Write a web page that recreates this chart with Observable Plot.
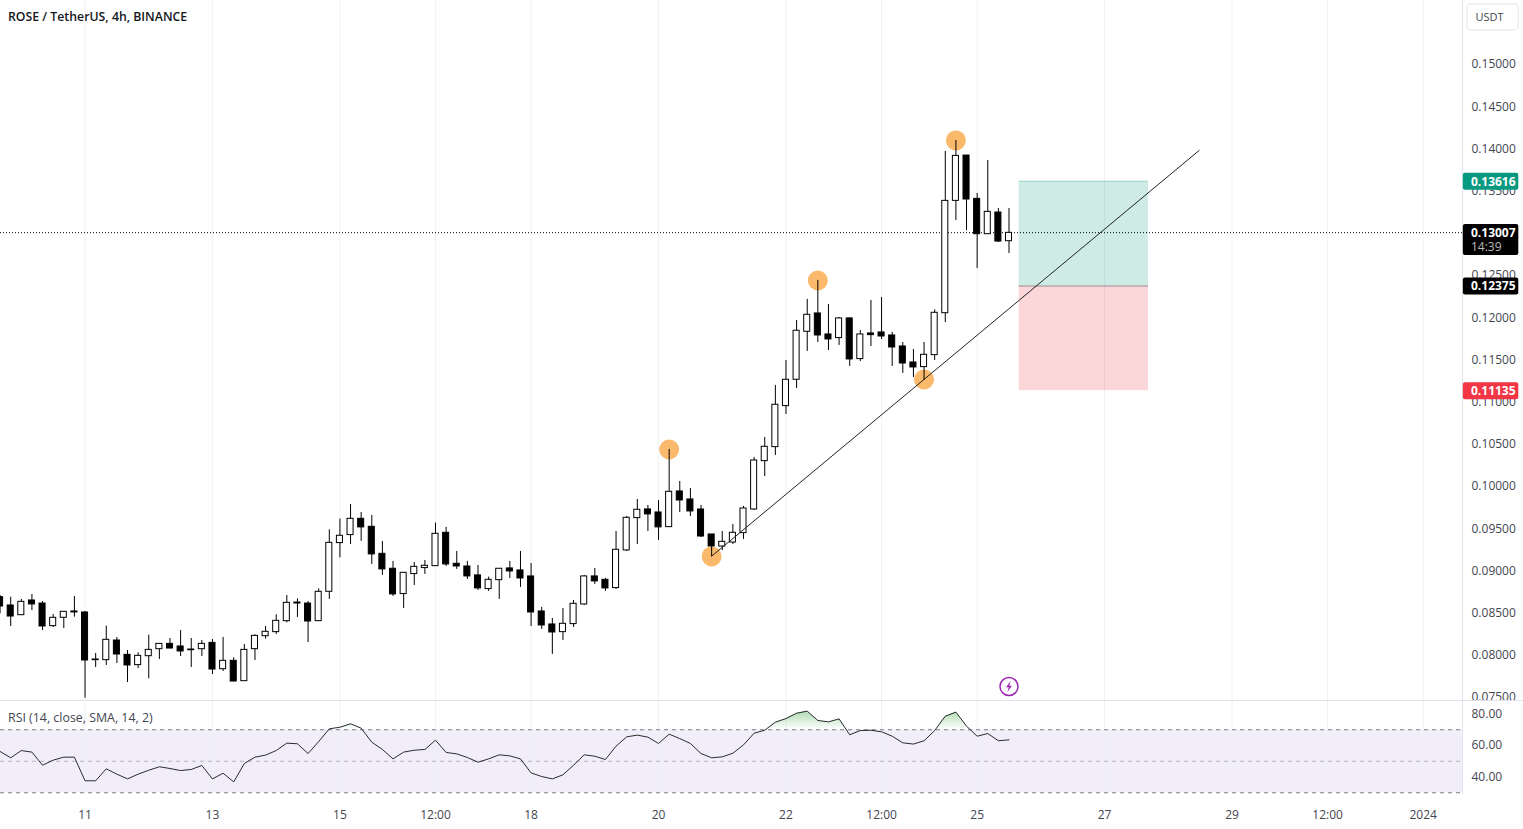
<!DOCTYPE html>
<html>
<head>
<meta charset="utf-8">
<script src="https://cdn.jsdelivr.net/npm/d3@7"></script>
<script src="https://cdn.jsdelivr.net/npm/@observablehq/plot@0.6"></script>
<style>
html,body{margin:0;padding:0;background:#fff;overflow:hidden}
#chart svg{display:block}
</style>
</head>
<body>
<div id="chart"></div>
<script>
const firstBar = -8;
const open = [.08688,.08590,.08475,.08649,.08613,.08345,.08444,.08519,.08507,.07950,.07942,.08175,.08005,.07883,.07989,.08072,.08135,.08104,.08068,.08072,.08147,.07835,.07934,.07693,.08072,.08226,.08274,.08404,.08625,.08613,.08404,.08752,
.09329,.09424,.09617,.09522,.09202,.09025,.08725,.08962,.09033,.09056,.09451,.09084,.09052,.08946,.08784,.08890,.09029,.09005,.08934,.08519,.08365,.08274,.08369,.08602,.08934,.08894,.08796,.09242,.09625,.09728,.09692,
.09518,.09941,.09846,.09727,.09431,.09289,.09336,.09447,.09727,.10300,.10466,.10952,.11264,.11833,.12050,.11801,.11758,.11991,.11509,.11813,.11825,.11789,.11659,.11469,.11414,.11556,
.12053,.13384,.13921,.13408,.12989,.13246,.12906];
const close = [.08578,.08459,.08633,.08602,.08341,.08444,.08515,.08507,.07938,.07942,.08183,.08009,.07879,.07993,.08064,.08135,.08080,.08045,.08060,.08135,.07831,.07934,.07689,.08064,.08230,.08278,.08408,.08621,.08613,.08400,.08752,.09332,
.09416,.09617,.09515,.09195,.09017,.08721,.08977,.09048,.09060,.09439,.09076,.09052,.08934,.08792,.08894,.09025,.08993,.08910,.08507,.08353,.08270,.08373,.08610,.08934,.08875,.08792,.09250,.09629,.09724,.09669,.09515,
.09937,.09834,.09704,.09407,.09289,.09344,.09451,.09739,.10308,.10470,.10968,.11264,.11845,.12034,.11789,.11742,.11991,.11505,.11801,.11793,.11777,.11647,.11457,.11410,.11560,.12058,
.13384,.13917,.13400,.12989,.13254,.12902,.13005];
const high = [.08708,.08688,.08661,.08720,.08637,.08483,.08519,.08696,.08519,.08021,.08345,.08211,.08056,.08029,.08238,.08135,.08199,.08293,.08199,.08175,.08187,.08211,.07970,.08128,.08242,.08341,.08479,.08708,.08669,.08637,.08787,.09486,
.09613,.09787,.09692,.09657,.09349,.09112,.08977,.09100,.09123,.09566,.09515,.09230,.09112,.09064,.08926,.09025,.09112,.09230,.09088,.08567,.08436,.08555,.08649,.08946,.09029,.08910,.09467,.09645,.09846,.09775,.09834,
.10438,.10059,.09976,.09775,.09431,.09467,.09550,.09763,.10344,.10581,.11197,.11493,.11967,.12216,.12441,.12157,.12003,.12000,.11848,.12204,.12240,.11825,.11706,.11623,.11706,.12093,
.13969,.14099,.13921,.13471,.13862,.13293,.13293];
const low = [.08491,.08341,.08470,.08530,.08293,.08329,.08317,.08451,.07492,.07855,.07879,.07902,.07677,.07843,.07721,.07950,.08075,.07985,.07855,.07985,.07772,.07808,.07685,.07690,.07938,.08191,.08246,.08384,.08448,.08151,.08400,.08661,
.09155,.09313,.09349,.09076,.08946,.08697,.08555,.08827,.08958,.09050,.09052,.09017,.08898,.08768,.08756,.08661,.08910,.08804,.08341,.08306,.08010,.08175,.08330,.08590,.08839,.08756,.08780,.09230,.09313,.09467,.09360,
.09515,.09692,.09644,.09396,.09170,.09241,.09313,.09372,.09715,.10118,.10367,.10853,.11161,.11600,.11706,.11611,.11671,.11422,.11481,.11659,.11742,.11422,.11339,.11292,.11256,.11493,
.11942,.13151,.13032,.12582,.12985,.12890,.12760];
const rsi = [56.2,52.2,56.8,55.8,47.5,50.7,52.6,52.6,37.6,37.6,45.2,41.8,38.8,41.8,44.3,46.5,45.4,44.1,44.8,47.3,38.8,42.4,36.9,48.6,52.6,53.9,56.8,61.5,61.1,54.9,62.5,70.6,71.6,73.8,71.0,62.1,57.5,51.5,55.8,57.0,57.5,63.4,55.6,54.7,52.4,49.4,51.5,54.1,53.4,51.5,
42.6,40.3,38.8,41.4,47.5,54.1,53.2,51.1,59.6,65.5,66.6,65.3,61.3,67.2,64.4,61.3,54.9,52.2,52.8,55.1,60.4,67.8,69.7,74.8,77.1,80.5,81.8,75.9,75.0,76.9,66.8,69.5,69.7,68.7,65.9,61.7,60.9,63.0,69.5,78.6,81.2,72.3,65.9,67.6,63.0,63.6];

const timeTicks = [0,12,24,33,42,54,66,75,84,96,108,117,126];
const timeLabels = ["11","13","15","12:00","18","20","22","12:00","25","27","29","12:00","2024"];
const priceTicks = [.15,.145,.14,.135,.125,.12,.115,.11,.105,.10,.095,.09,.085,.08,.075];
const rsiTicks = [80,60,40];
const rsiBands = [70,50,30];

const pivotBars = [55,59,69,79,82];
const pivotPrices = [.10438,.09171,.12441,.11268,.14100];
const trendBars = [59,104.9];
const trendPrices = [.09174,.13981];
const lastPrice = .13007, targetPrice = .13616, entryPrice = .12375, stopPrice = .11135;
const countdown = "14:39";
const boxBars = [87.95,100.13];
const alertBar = 87, alertPrice = .07630;

const font = "'Open Sans','Noto Sans',sans-serif";
const textColor = "#434651";
const gridColor = "#f0f1f5";
const xDomain = [-7.96,129.70];
const tagLeft = 129.78, tagRight = 135.0, tagText = 130.5;

const candles = open.map((o,k) => ({i:firstBar+k, open:o, close:close[k], high:high[k], low:low[k], up:close[k]>o}));
const rsiRows = rsi.map((v,k) => ({i:firstBar+k, rsi:v}));
const pivots = pivotBars.map((b,k) => ({i:b, p:pivotPrices[k]}));
const trend = trendBars.map((b,k) => ({i:b, p:trendPrices[k]}));
const tagShift = .00006;
const tags = [
  {y1:targetPrice+.00101-tagShift,y2:targetPrice-.00101-tagShift,fill:"#089981",p:targetPrice},
  {y1:.13104,y2:.12737,fill:"#000000",p:lastPrice},
  {y1:entryPrice+.00101-tagShift,y2:entryPrice-.00101-tagShift,fill:"#000000",p:entryPrice},
  {y1:stopPrice+.00101-tagShift,y2:stopPrice-.00101-tagShift,fill:"#f23645",p:stopPrice}
];
const halfBody = 0.285;

const bolt = {draw(c){ c.moveTo(1.6,-5.6); c.lineTo(-3,.8); c.lineTo(-.2,.8); c.lineTo(-1.6,5.6); c.lineTo(3,-.8); c.lineTo(.2,-.8); c.closePath(); }};

const pricePlot = Plot.plot({
  width:1523, height:700, margin:0, marginRight:61,
  style:{fontFamily:font,fontSize:"12px",background:"#fff"},
  x:{domain:xDomain,axis:null},
  y:{domain:[.07464,.15758]},
  marks:[
    Plot.ruleX(timeTicks,{stroke:gridColor}),
    Plot.rect([{}],{x1:boxBars[0],x2:boxBars[1],y1:entryPrice,y2:targetPrice,fill:"#089981",fillOpacity:.2}),
    Plot.rect([{}],{x1:boxBars[0],x2:boxBars[1],y1:stopPrice,y2:entryPrice,fill:"#f23645",fillOpacity:.2}),
    Plot.ruleY([entryPrice],{x1:boxBars[0],x2:boxBars[1],stroke:"#787b86",strokeOpacity:.8}),
    Plot.ruleY([targetPrice],{x1:boxBars[0],x2:boxBars[1],stroke:"#089981",strokeOpacity:.25}),
    Plot.ruleY([lastPrice],{stroke:"#000",strokeDasharray:"1,2"}),
    Plot.dot(pivots,{x:"i",y:"p",r:10,fill:"#fbb96c"}),
    Plot.ruleX(candles,{x:"i",y1:"low",y2:"high",stroke:"#000"}),
    Plot.rect(candles,{x1:d=>d.i-halfBody,x2:d=>d.i+halfBody,y1:"open",y2:"close",fill:d=>d.up?"#fff":"#000",stroke:"#000"}),
    Plot.line(trend,{x:"i",y:"p",stroke:"#222",strokeWidth:1}),
    Plot.dot([{}],{x:alertBar,y:alertPrice,r:9,stroke:"#9c27b0",strokeWidth:1.5,fill:"#fff"}),
    Plot.dot([{}],{x:alertBar,y:alertPrice,symbol:bolt,r:6,fill:"#9c27b0",stroke:"none"}),
    Plot.ruleX([xDomain[1]],{stroke:"#e0e3eb"}),
    Plot.axisY({anchor:"right",ticks:priceTicks,tickSize:0,tickPadding:9,tickFormat:d=>d.toFixed(5),label:null,color:textColor}),
    Plot.rect(tags,{x1:tagLeft,x2:tagRight,y1:"y1",y2:"y2",fill:"fill",rx:2}),
    Plot.text(tags,{x:tagText,y:d=>d.p,dy:.5,text:d=>d.p.toFixed(5),fill:"#fff",fontWeight:700,textAnchor:"start"}),
    Plot.text([countdown],{x:tagText,y:.12832,text:d=>d,fill:"#bdbdbd",textAnchor:"start"}),
    Plot.rect([{}],{x1:130.17,x2:135.0,y1:.15711,y2:.15403,fill:"#fff",stroke:"#eceef2",strokeWidth:1.5,rx:4}),
    Plot.text(["USDT"],{x:132.25,y:.15557,text:d=>d,fill:textColor,fontSize:11}),
    Plot.text(["ROSE / TetherUS, 4h, BINANCE"],{frameAnchor:"top-left",dx:7.5,dy:12,text:d=>d,fill:"#131722",fontWeight:600,fontSize:12.3})
  ]
});

const rsiPlot = Plot.plot({
  width:1523, height:129, margin:0, marginRight:61, marginBottom:35,
  style:{fontFamily:font,fontSize:"12px",background:"#fff"},
  x:{domain:xDomain},
  y:{domain:[28.9,88.57]},
  marks:[
    () => {
      const defs = d3.create("svg:defs");
      const g = defs.append("linearGradient").attr("id","ob").attr("x1",0).attr("x2",0).attr("y1",0).attr("y2",1);
      g.append("stop").attr("offset",0).attr("stop-color","#4caf50").attr("stop-opacity",.45);
      g.append("stop").attr("offset",1).attr("stop-color","#4caf50").attr("stop-opacity",0);
      return defs.node();
    },
    Plot.rect([{}],{y1:30,y2:70,fill:"#7e57c2",fillOpacity:.1}),
    Plot.ruleX(timeTicks,{stroke:gridColor}),
    Plot.ruleY(rsiBands,{stroke:"#787b86",strokeDasharray:"4,4",strokeOpacity:d=>d===50?.5:1}),
    Plot.areaY(rsiRows,{x:"i",y1:70,y2:d=>Math.max(d.rsi,70),fill:"url(#ob)"}),
    Plot.line(rsiRows,{x:"i",y:"rsi",stroke:"#2a2a2e",strokeWidth:1}),
    Plot.ruleX([xDomain[1]],{stroke:"#e0e3eb"}),
    Plot.ruleY([88.57],{x1:xDomain[0],x2:tagRight+.6,stroke:"#e0e3eb"}),
    Plot.axisY({anchor:"right",ticks:rsiTicks,tickSize:0,tickPadding:9,tickFormat:d=>d.toFixed(2),label:null,color:textColor}),
    Plot.axisX({anchor:"bottom",ticks:timeTicks,tickSize:0,tickPadding:16,tickFormat:d=>timeLabels[timeTicks.indexOf(d)],label:null,color:textColor}),
    Plot.text(["RSI (14, close, SMA, 14, 2)"],{frameAnchor:"top-left",dx:7.5,dy:13,text:d=>d,fill:textColor,fontSize:12.4})
  ]
});
const root = document.getElementById("chart");
root.append(pricePlot, rsiPlot);
</script>
</body>
</html>
